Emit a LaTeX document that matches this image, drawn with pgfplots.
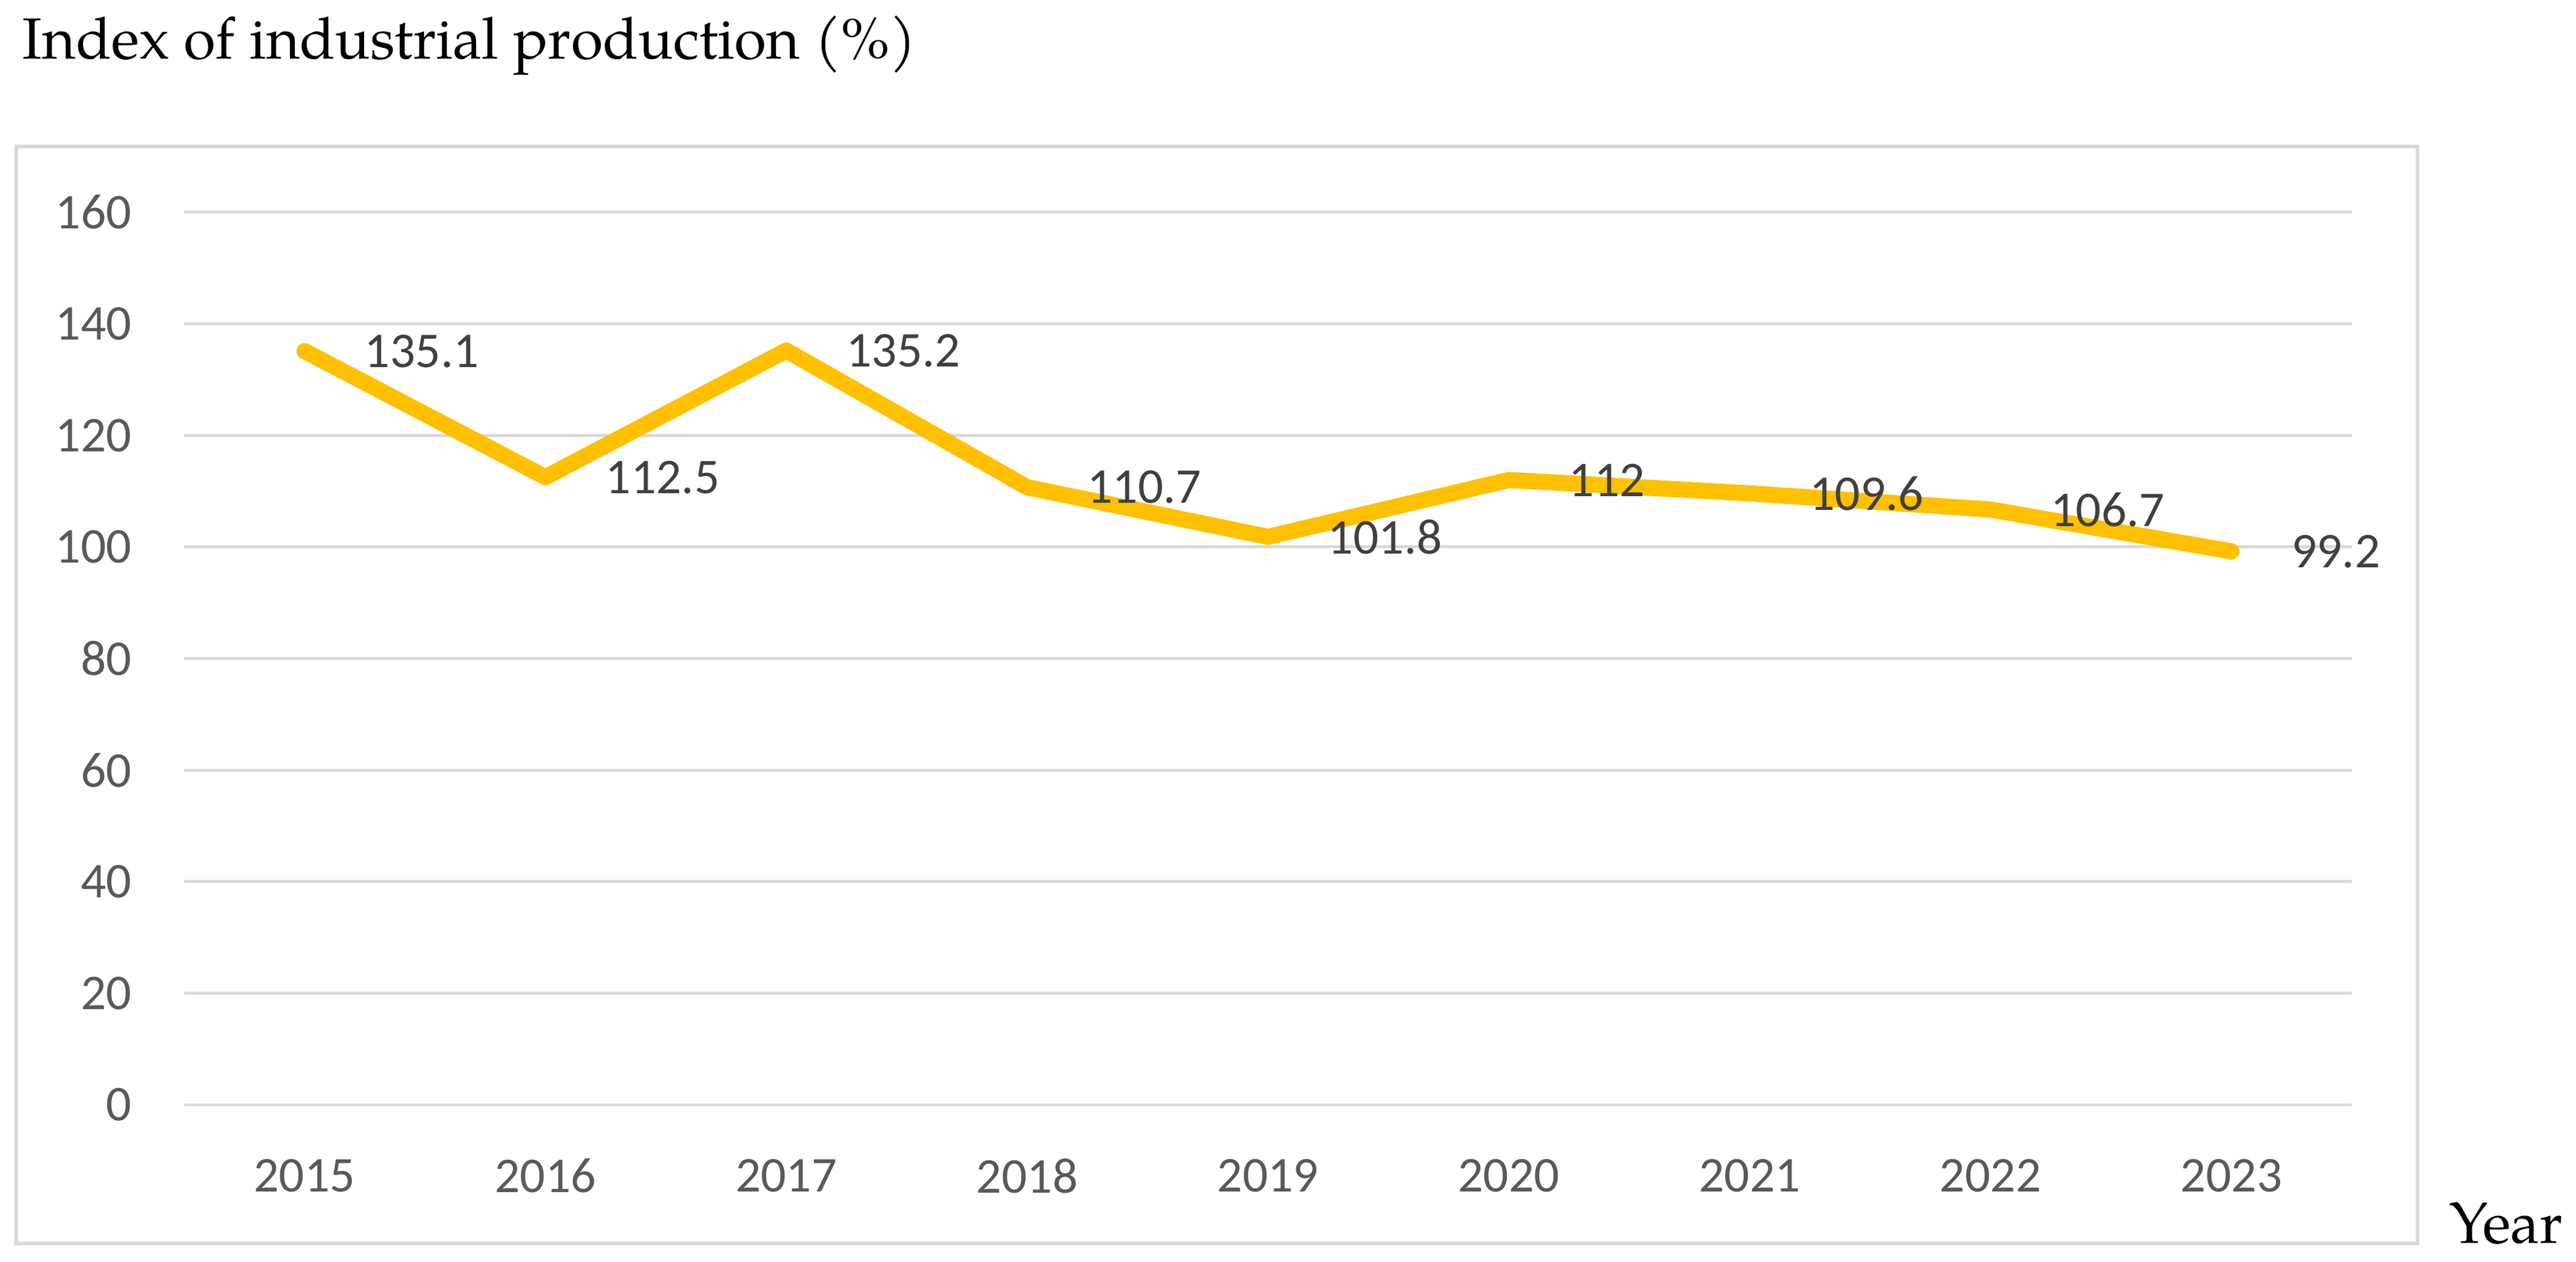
\documentclass[border=0pt]{standalone}
\usepackage{fontspec}
\usepackage{pgfplots}
\pgfplotsset{compat=1.18}
\setmainfont{Carlito}
\newfontfamily\titlefont{texgyrepagella-regular.otf}
\definecolor{lineyel}{HTML}{FFC000}
\definecolor{gridgray}{HTML}{D9D9D9}
\definecolor{ticktext}{HTML}{595959}
\definecolor{labeltext}{HTML}{404040}
\pgfplotstableread{
x y lab
0 135.1 135.1
1 112.5 112.5
2 135.2 135.2
3 110.7 110.7
4 101.8 101.8
5 112.0 112
6 109.6 109.6
7 106.7 106.7
8 99.2 99.2
}\mydata
\begin{document}
\begin{tikzpicture}
\draw[gridgray, line width=0.55bp] (2.7bp,3.1bp) rectangle (404.3bp,186.6bp);
\node[anchor=base west, inner sep=0pt, font=\titlefont\fontsize{9.75}{12}\selectfont] at (3.6bp,201.2bp) {Index of industrial production (\%)};
\node[anchor=base west, inner sep=0pt, font=\titlefont\fontsize{9.75}{12}\selectfont] at (409.4bp,3.2bp) {Year};
\begin{axis}[
  at={(30.8bp,26.3bp)}, anchor=south west,
  width=362.5bp, height=149.3bp, scale only axis,
  xmin=-0.5, xmax=8.5, ymin=0, ymax=160,
  xtick={0,1,2,3,4,5,6,7,8},
  xticklabels={2015,2016,2017,2018,2019,2020,2021,2022,2023},
  ytick={0,20,40,60,80,100,120,140,160},
  axis line style={draw=none},
  major tick length=0pt,
  ymajorgrids, grid style={gridgray, line width=0.5bp},
  tick label style={font=\fontsize{8.4}{10}\selectfont, text=ticktext, inner sep=0pt},
  yticklabel style={anchor=east, xshift=-8.6bp},
  xticklabel style={anchor=center, yshift=-11.9bp},
  /pgf/number format/assume math mode=true,
  clip=false,
]
\addplot[lineyel, line width=2.7bp, line join=round, line cap=round,
  nodes near coords={\pgfplotspointmeta},
  point meta=explicit symbolic,
  nodes near coords style={anchor=west, inner sep=0pt, xshift=8.7bp,
    font=\fontsize{8.4}{10}\selectfont, text=labeltext}]
  table[x=x, y=y, meta=lab] {\mydata};
\end{axis}
\pgfresetboundingbox
\path[use as bounding box] (0,0) rectangle (430.8bp,211.1bp);
\end{tikzpicture}
\end{document}
